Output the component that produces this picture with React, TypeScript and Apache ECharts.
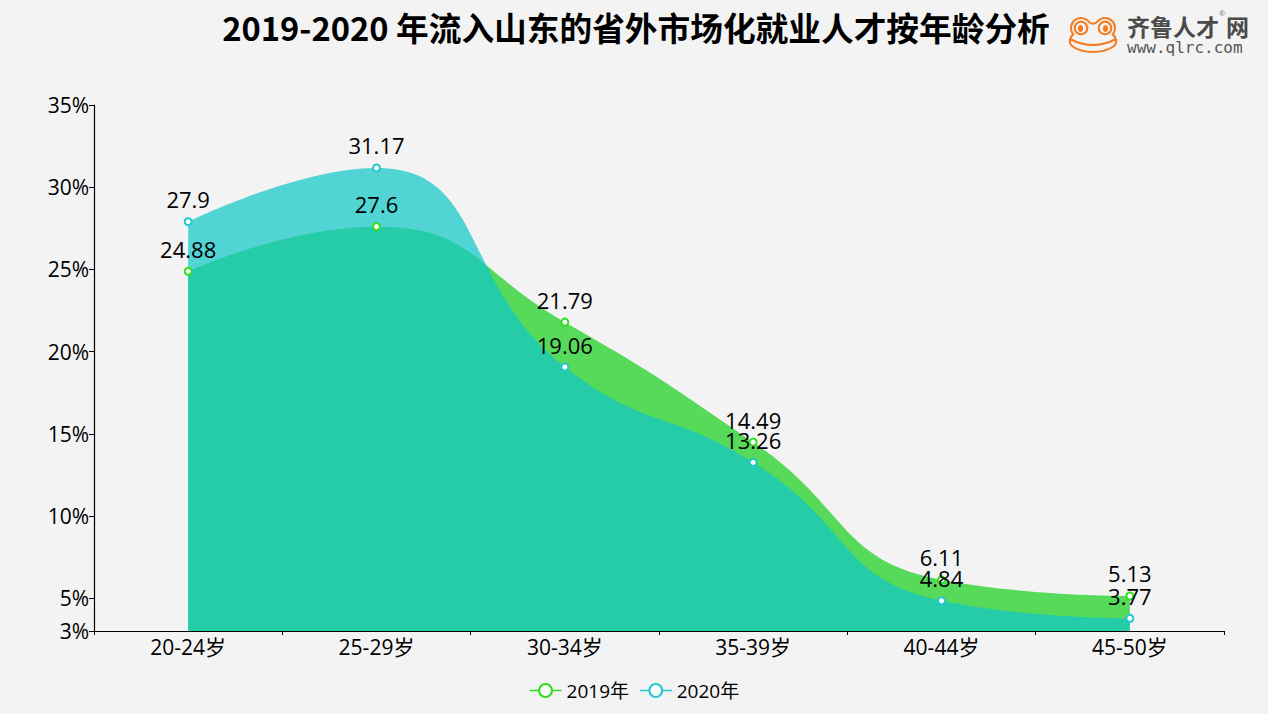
import React, { useEffect, useRef } from "react";
import * as echarts from "echarts";

const categories = ["20-24岁", "25-29岁", "30-34岁", "35-39岁", "40-44岁", "45-50岁"];
const values2019 = [24.88, 27.6, 21.79, 14.49, 6.11, 5.13];
const values2020 = [27.9, 31.17, 19.06, 13.26, 4.84, 3.77];
const seriesNames = ["2019年", "2020年"];
const titleText = "2019-2020 年流入山东的省外市场化就业人才按年龄分析";

const FONT = "'Noto Sans CJK SC', 'Noto Sans', sans-serif";
const NUMFONT = "'Open Sans', 'Noto Sans CJK SC', sans-serif";
const ORANGE = "#f47b20";
const GREEN_MARK = "#33dd22";
const CYAN_MARK = "#22c8d0";

const FROG_D =
  "M7.3,16.4 A10,10 0 1 1 23.2,4.3 Q27,7 30.8,4.3 A10,10 0 1 1 46.7,16.4 " +
  "C50,19 52,24 48,28 Q40,34 27,34 Q14,34 6,28 C2,24 4,19 7.3,16.4 Z " +
  "M4,21 Q27,33 50,21";

let registered = false;

export default function App() {
  const ref = useRef<HTMLDivElement>(null);
  useEffect(() => {
    document.body.style.margin = "0";
    if (!registered) {
      echarts.graphic.registerShape("frog", echarts.graphic.extendPath(FROG_D, {}));
      registered = true;
    }
    const chart = echarts.init(ref.current!, null, { renderer: "svg" });
    const labelStyle = { show: true, position: "top", distance: 7, fontSize: 22, color: "#000", fontFamily: NUMFONT };
    chart.setOption({
      animation: false,
      backgroundColor: "#f3f3f3",
      textStyle: { fontFamily: FONT },
      title: {
        text: titleText,
        left: 631,
        textAlign: "center",
        top: 5,
        textStyle: { fontSize: 32.7, fontWeight: "bold", color: "#000", fontFamily: FONT },
      },
      graphic: [
        { type: "frog", x: 1066, y: 18, style: { fill: "none", stroke: ORANGE, lineWidth: 2 } },
        { type: "circle", shape: { cx: 1081, cy: 28, r: 6.3 }, style: { fill: "none", stroke: ORANGE, lineWidth: 2 } },
        { type: "circle", shape: { cx: 1105, cy: 28, r: 6.3 }, style: { fill: "none", stroke: ORANGE, lineWidth: 2 } },
        { type: "ellipse", shape: { cx: 1080.5, cy: 28.5, rx: 2.6, ry: 3.6 }, style: { fill: ORANGE } },
        { type: "ellipse", shape: { cx: 1105.5, cy: 28.5, rx: 2.6, ry: 3.6 }, style: { fill: ORANGE } },
        { type: "text", x: 1127, y: 26, style: { text: "齐鲁人才", fontSize: 23, fontWeight: "bold", fill: "#4a4a4a", fontFamily: FONT, verticalAlign: "middle" } },
        { type: "text", x: 1219, y: 13, style: { text: "®", fontSize: 8, fill: "#777", verticalAlign: "middle" } },
        { type: "text", x: 1226, y: 26, style: { text: "网", fontSize: 23, fontWeight: "bold", fill: "#4a4a4a", fontFamily: FONT, verticalAlign: "middle" } },
        { type: "text", x: 1127, y: 47, style: { text: "www.qlrc.com", fontSize: 16, fill: "#555", fontFamily: "'DejaVu Sans Mono', monospace", verticalAlign: "middle" } },
      ],
      legend: {
        bottom: 9,
        left: "center",
        itemWidth: 32,
        itemHeight: 16,
        itemGap: 10,
        textStyle: { fontSize: 19, color: "#000", fontFamily: NUMFONT },
        data: [
          { name: seriesNames[0], itemStyle: { color: GREEN_MARK, borderWidth: 1 }, lineStyle: { width: 1.5, color: GREEN_MARK } },
          { name: seriesNames[1], itemStyle: { color: CYAN_MARK, borderWidth: 1 }, lineStyle: { width: 1.5, color: CYAN_MARK } },
        ],
      },
      grid: { left: 94, right: 44, top: 105, bottom: 83 },
      xAxis: {
        type: "category",
        data: categories,
        boundaryGap: true,
        axisLine: { lineStyle: { color: "#000", width: 1.2 } },
        axisTick: { show: true, length: 4, lineStyle: { color: "#000" } },
        axisLabel: { fontSize: 21, color: "#000", margin: 5, fontFamily: NUMFONT },
      },
      yAxis: {
        type: "value",
        min: 3,
        max: 35,
        splitNumber: 6,
        splitLine: { show: false },
        axisLine: { show: true, lineStyle: { color: "#000", width: 1.2 } },
        axisTick: { show: true, length: 5, lineStyle: { color: "#000" } },
        axisLabel: { fontSize: 21, color: "#000", formatter: "{value}%", margin: 5, fontFamily: NUMFONT },
      },
      series: [
        {
          name: seriesNames[0],
          type: "line",
          data: values2019,
          smooth: true,
          symbol: "emptyCircle",
          symbolSize: 7,
          itemStyle: { color: GREEN_MARK, borderWidth: 1.8 },
          lineStyle: { width: 0 },
          label: labelStyle,
          z: 4,
        },
        {
          name: seriesNames[1],
          type: "line",
          data: values2020,
          smooth: true,
          symbol: "emptyCircle",
          symbolSize: 7,
          itemStyle: { color: CYAN_MARK, borderWidth: 1.8 },
          lineStyle: { width: 0 },
          label: labelStyle,
          z: 5,
        },
        {
          name: seriesNames[0],
          type: "line",
          data: values2019,
          smooth: true,
          symbol: "none",
          lineStyle: { width: 0 },
          areaStyle: { color: "rgb(87,217,90)", opacity: 1 },
          z: 2,
        },
        {
          name: seriesNames[1],
          type: "line",
          data: values2020,
          smooth: true,
          symbol: "none",
          lineStyle: { width: 0 },
          areaStyle: { color: "rgb(16,198,198)", opacity: 0.71 },
          z: 3,
        },
      ],
    });
    return () => chart.dispose();
  }, []);
  return <div ref={ref} style={{ width: 1268, height: 714 }} />;
}
